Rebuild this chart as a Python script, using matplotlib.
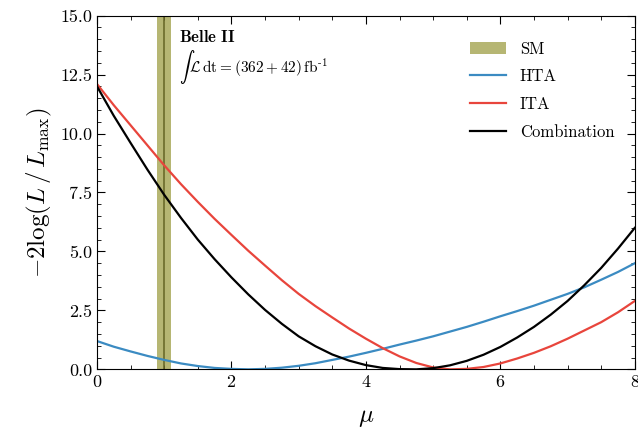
import matplotlib
matplotlib.use("Agg")
import matplotlib.pyplot as plt
from matplotlib.ticker import AutoMinorLocator

plt.rcParams['font.family'] = 'serif'
plt.rcParams['font.serif'] = ['cmr10']
plt.rcParams['mathtext.fontset'] = 'cm'
plt.rcParams['axes.formatter.use_mathtext'] = True

# Werte
mu = [0, 0.25, 0.5, 0.75, 1, 1.25, 1.5, 1.75, 2, 2.25, 2.5, 2.75, 3, 3.25, 3.5, 3.75,
      4, 4.25, 4.5, 4.75, 5, 5.25, 5.5, 5.75, 6, 6.25, 6.5, 6.75, 7, 7.25, 7.5, 7.75, 8]
hta = [1.2, 0.96, 0.76, 0.57, 0.4, 0.25, 0.14, 0.06, 0.02, 0.0, 0.02, 0.07, 0.15, 0.26, 0.4, 0.54,
       0.7, 0.87, 1.05, 1.22, 1.4, 1.6, 1.8, 2.02, 2.25, 2.47, 2.7, 2.95, 3.2, 3.48, 3.8, 4.13, 4.5]
ita = [12.1, 11.2, 10.35, 9.5, 8.65, 7.85, 7.1, 6.38, 5.7, 5.03, 4.4, 3.78, 3.2, 2.68, 2.2, 1.73,
       1.3, 0.9, 0.55, 0.27, 0.08, 0.0, 0.02, 0.1, 0.25, 0.46, 0.7, 0.98, 1.3, 1.65, 2.0, 2.42, 2.9]
comb = [12.0, 10.75, 9.6, 8.47, 7.4, 6.42, 5.5, 4.67, 3.9, 3.18, 2.52, 1.93, 1.4, 0.98, 0.63, 0.37,
        0.18, 0.06, 0.01, 0.0, 0.05, 0.17, 0.36, 0.62, 0.95, 1.35, 1.8, 2.32, 2.9, 3.57, 4.3, 5.12, 6.0]
sm_val = 1.0
sm_lo, sm_hi = 0.9, 1.1

fig, ax = plt.subplots(figsize=(6.38, 4.45), dpi=100)
ax.axvspan(sm_lo, sm_hi, color='#a9a95a', alpha=0.85, lw=0, label='SM')
ax.axvline(sm_val, color='#6b6b2a', lw=1.2)
ax.plot(mu, hta, color='#3b8bc2', lw=1.6, label='HTA')
ax.plot(mu, ita, color='#e8453c', lw=1.6, label='ITA')
ax.plot(mu, comb, color='black', lw=1.6, label='Combination')

ax.set_xlim(0, 8)
ax.set_ylim(0, 15)
ax.set_xticks([0, 2, 4, 6, 8])
ax.set_yticks([0, 2.5, 5, 7.5, 10, 12.5, 15])
ax.set_yticklabels(['0.0', '2.5', '5.0', '7.5', '10.0', '12.5', '15.0'])
ax.xaxis.set_minor_locator(AutoMinorLocator(4))
ax.yaxis.set_minor_locator(AutoMinorLocator(5))
ax.tick_params(which='both', direction='in', top=True, right=True, labelsize=13)
ax.tick_params(which='major', length=6)
ax.tick_params(which='minor', length=3)
ax.set_xlabel(r'$\mu$', fontsize=18, labelpad=12)
ax.set_ylabel(r'$-2\log(L\,/\,L_{\rm max})$', fontsize=18)

ax.text(1.22, 13.9, r'$\mathbf{Belle\ II}$', fontsize=12)
ax.text(1.22, 12.6, r'$\int\,\mathcal{L}\,\mathrm{dt} = (362 + 42)\,\mathrm{fb}^{\text{-}1}$', fontsize=11)

leg = ax.legend(loc='upper right', bbox_to_anchor=(0.99, 0.97), frameon=False, fontsize=12,
                handlelength=2.2, labelspacing=0.75)
fig.subplots_adjust(left=0.152, right=0.995, top=0.965, bottom=0.17)
fig.savefig('out.png', dpi=100)
